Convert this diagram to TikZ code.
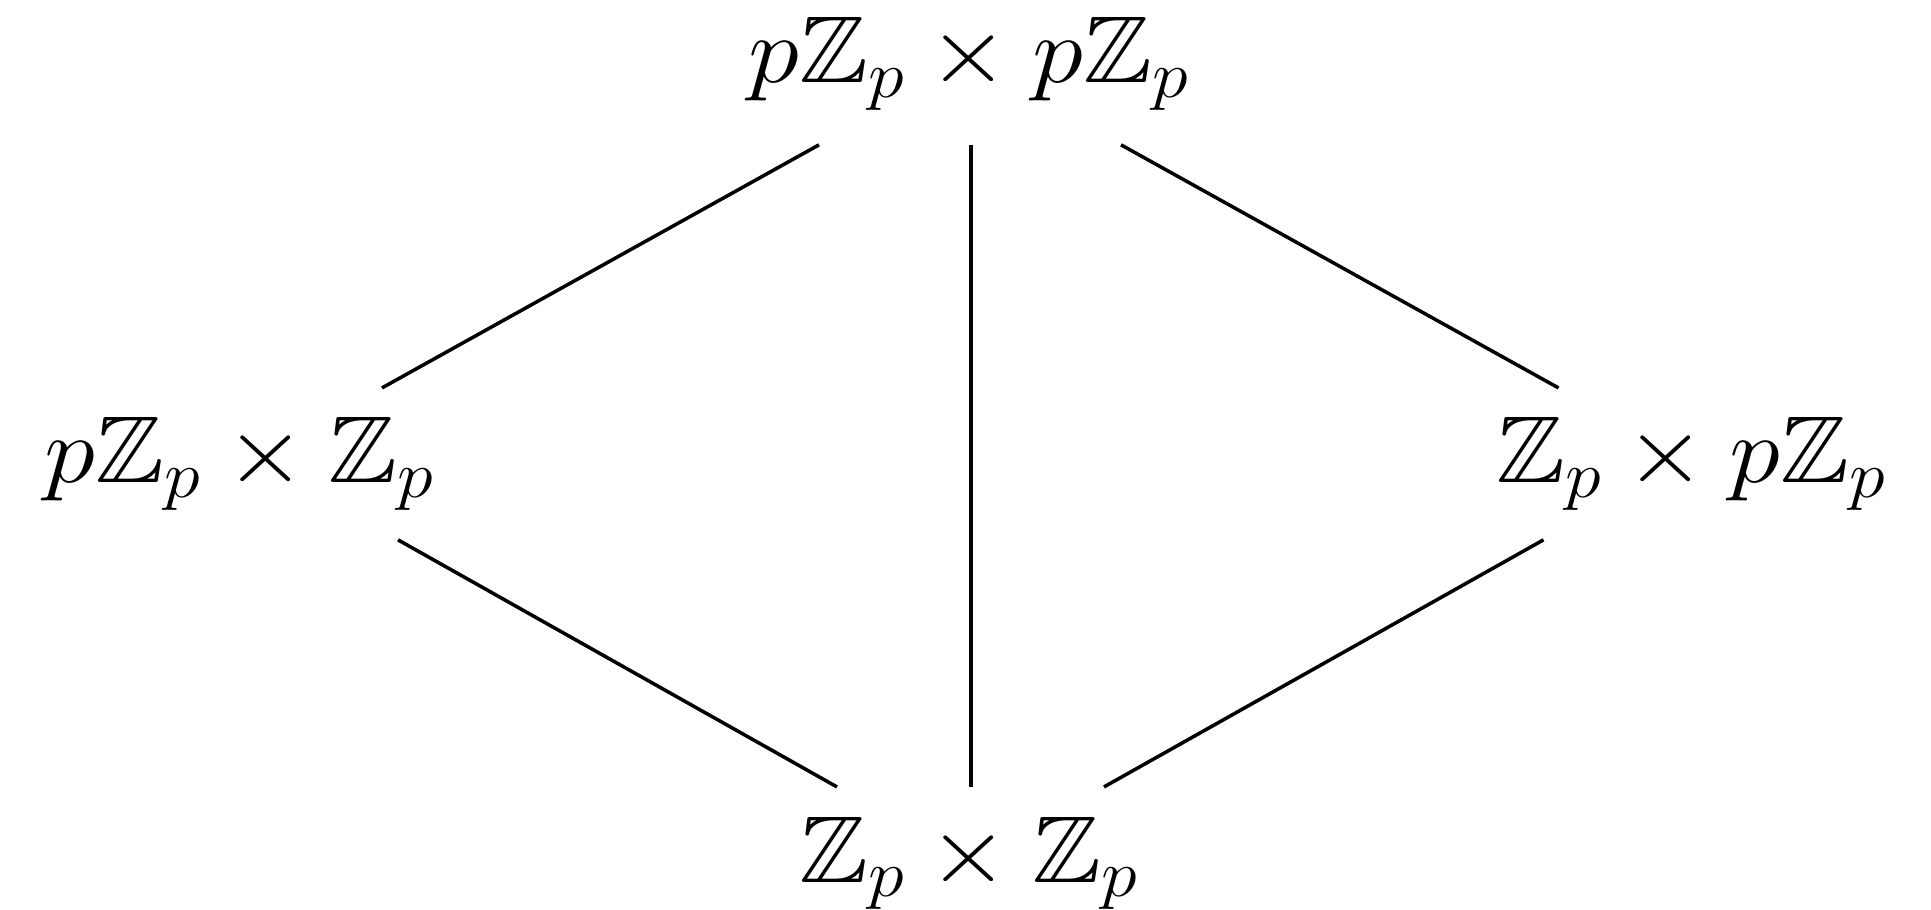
\RequirePackage{fix-cm}
\documentclass[tikz,border=0pt]{standalone}
\usepackage{amssymb}

\tikzset{
    group/.style={font=\fontsize{27}{32}\selectfont, anchor=base, xscale=1.09,
        inner xsep=0pt, inner ysep=2.9mm},
    link/.style={line width=1pt}
}

\begin{document}
\begin{tikzpicture}
    \useasboundingbox (0,0) rectangle (19.31,-9.10);
    \node[group, inner ysep=3.4mm] (top) at (9.69,-0.83) {$p\mathbb{Z}_p \times p\mathbb{Z}_p$};
    \node[group] (left) at (2.40,-4.83) {$p\mathbb{Z}_p \times \mathbb{Z}_p$};
    \node[group] (right) at (16.915,-4.83) {$\mathbb{Z}_p \times p\mathbb{Z}_p$};
    \node[group] (bottom) at (9.69,-8.82) {$\mathbb{Z}_p \times \mathbb{Z}_p$};
    \draw[link] ([xshift=-1.5cm]top.south) -- ([xshift=1.42cm]left.north);
    \draw[link] ([xshift=1.52cm]top.south) -- ([xshift=-1.33cm]right.north);
    \draw[link] ([xshift=0.02cm]top.south) -- ([xshift=0.02cm]bottom.north);
    \draw[link] ([xshift=1.58cm]left.south) -- ([xshift=-1.32cm]bottom.north);
    \draw[link] ([xshift=-1.48cm]right.south) -- ([xshift=1.35cm]bottom.north);
\end{tikzpicture}
\end{document}
